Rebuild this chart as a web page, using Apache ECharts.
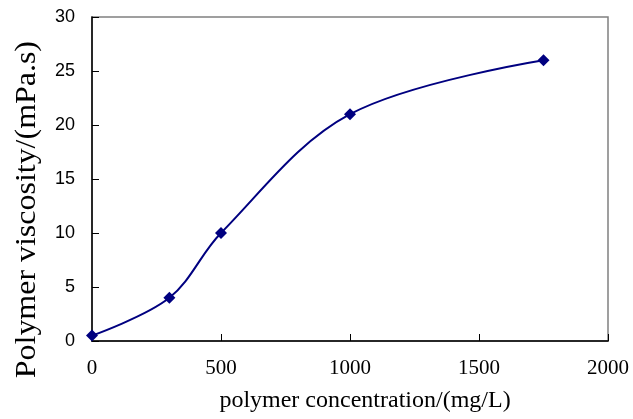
<!DOCTYPE html>
<html><head><meta charset="utf-8">
<script src="https://cdn.jsdelivr.net/npm/echarts@6/dist/echarts.min.js"></script>
<style>html,body{margin:0;padding:0;background:#fff}#c{width:633px;height:419px}</style>
</head><body><div id="c"></div>
<script>
var concentration = [0, 300, 500, 1000, 1750];
var viscosity = [0.5, 4, 10, 21, 26];
var xTicks = [0, 500, 1000, 1500, 2000];
var yTicks = [0, 5, 10, 15, 20, 25, 30];

var pts = concentration.map(function(c, i){ return [c, viscosity[i]]; });
var chart = echarts.init(document.getElementById('c'));
chart.setOption({
  animation: false,
  backgroundColor: '#fff',
  grid: {left: 92, right: 25, top: 17, bottom: 78, show: true, borderColor: '#808080', borderWidth: 1.5},
  xAxis: {
    type: 'value', min: xTicks[0], max: xTicks[xTicks.length-1], interval: 500,
    name: 'polymer concentration/(mg/L)', nameLocation: 'middle', nameGap: 48,
    nameTextStyle: {fontFamily: 'Liberation Serif', fontSize: 24, color: '#000', padding: [0, 0, 0, 30]},
    axisLine: {lineStyle: {color: '#000', width: 1.5}},
    axisTick: {inside: true, length: 7, lineStyle: {color: '#000'}},
    axisLabel: {fontFamily: 'Liberation Serif', fontSize: 21, color: '#000', margin: 17,
      formatter: function(v){ return String(v); }},
    splitLine: {show: false}
  },
  yAxis: {
    type: 'value', min: yTicks[0], max: yTicks[yTicks.length-1], interval: 5,
    axisLine: {show: true, lineStyle: {color: '#000', width: 1.5}},
    axisTick: {show: true, inside: true, length: 7, lineStyle: {color: '#000'}},
    axisLabel: {fontFamily: 'Liberation Sans', fontSize: 18, color: '#000', margin: 17},
    splitLine: {show: false}
  },
  graphic: [{
    type: 'text', left: 12, top: 41, rotation: Math.PI/2, scaleX: 1.065,
    style: {text: 'Polymer viscosity/(mPa.s)', fontFamily: 'Liberation Serif', fontSize: 30, fill: '#000'}
  }],
  series: [{
    type: 'line', data: pts, smooth: 0.35,
    lineStyle: {color: '#000080', width: 2},
    itemStyle: {color: '#000080'},
    symbol: 'diamond', symbolSize: 12
  }]
});
</script></body></html>
